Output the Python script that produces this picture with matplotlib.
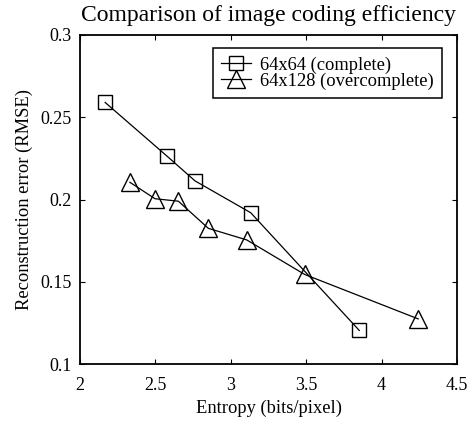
import matplotlib
matplotlib.use("Agg")
import matplotlib.pyplot as plt

plt.rcParams['font.family'] = ['Liberation Serif', 'DejaVu Serif']

# entropy (bits/pixel) vs reconstruction error
x_complete = [2.166, 2.575, 2.763, 3.132, 3.852]
y_complete = [0.259, 0.2265, 0.2113, 0.192, 0.1205]
x_over = [2.33, 2.497, 2.652, 2.851, 3.105, 3.49, 4.243]
y_over = [0.2105, 0.2005, 0.199, 0.1825, 0.1755, 0.1545, 0.1275]
labels = ['64x64 (complete)', '64x128 (overcomplete)']

fig = plt.figure(figsize=(4.74, 4.21), dpi=100)
ax = fig.add_axes([0.169, 0.135, 0.795, 0.782])

ax.plot(x_complete, y_complete, '-', color='k', lw=0.9, marker='s', ms=9.5,
        mfc='none', mec='k', mew=1.0, label=labels[0])
ax.plot(x_over, y_over, '-', color='k', lw=0.9, marker='^', ms=13,
        mfc='none', mec='k', mew=1.0, label=labels[1])

ax.set_xlim(2, 4.5)
ax.set_ylim(0.1, 0.3)
ax.set_xticks([2, 2.5, 3, 3.5, 4, 4.5])
ax.set_xticklabels(['2', '2.5', '3', '3.5', '4', '4.5'])
ax.set_yticks([0.1, 0.15, 0.2, 0.25, 0.3])
ax.set_yticklabels(['0.1', '0.15', '0.2', '0.25', '0.3'])
ax.tick_params(direction='in', top=True, right=True, labelsize=13, length=3.5, pad=6)
ax.tick_params(axis='x', pad=9.5)
for s in ax.spines.values():
    s.set_linewidth(1.3)

ax.set_xlabel('Entropy (bits/pixel)', fontsize=13.3, labelpad=3.5)
ax.set_ylabel('Reconstruction error (RMSE)', fontsize=13.3, labelpad=5)
ax.set_title('Comparison of image coding efficiency', fontsize=17, pad=10)

leg = ax.legend(loc='upper right', fontsize=13.3, fancybox=False, framealpha=1,
                edgecolor='k', borderpad=0.45, labelspacing=-0.08, handlelength=1.6,
                handletextpad=0.5, borderaxespad=0.0,
                bbox_to_anchor=(0.96, 0.96))
leg.get_frame().set_linewidth(1.1)

fig.savefig('out.png', dpi=100)
